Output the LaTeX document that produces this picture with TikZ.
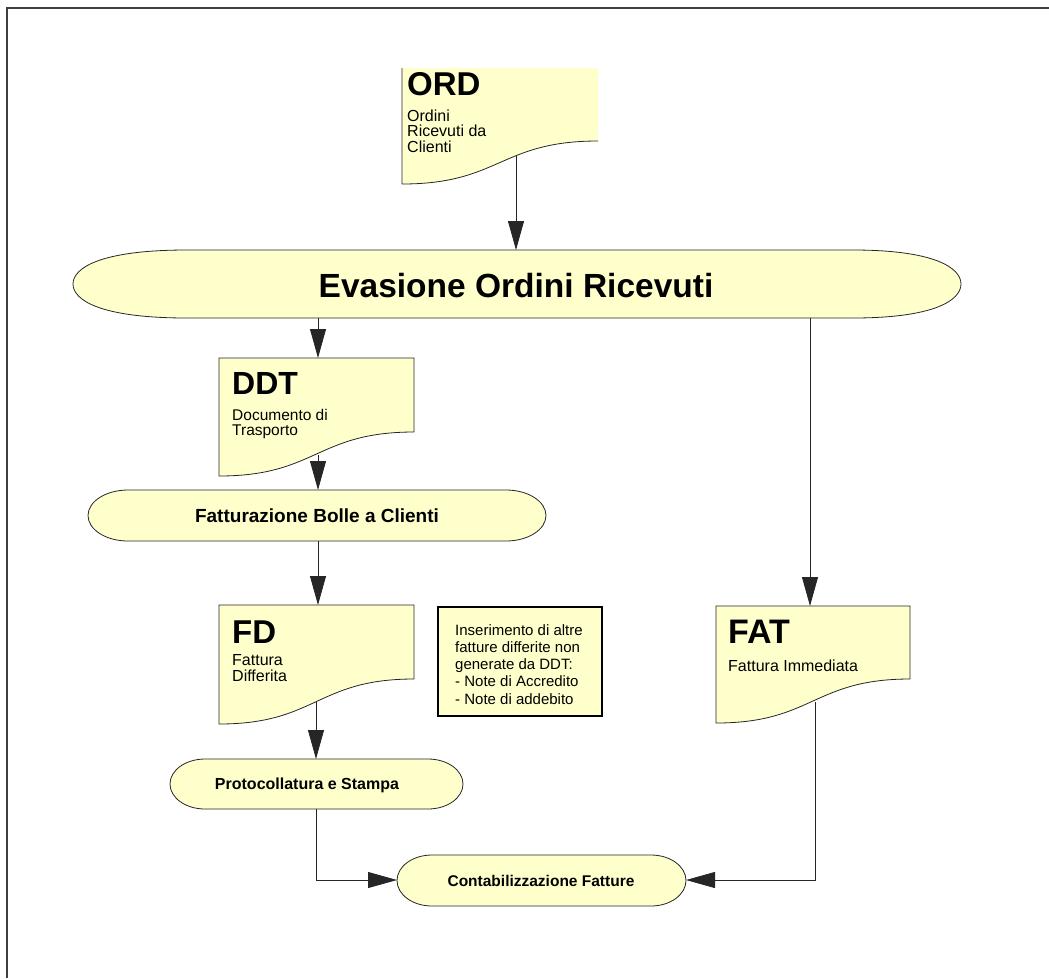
\documentclass[tikz,border=0pt]{standalone}
\usepackage{fontspec}
\setmainfont{Liberation Sans}
\usetikzlibrary{arrows.meta}
\definecolor{docyellow}{HTML}{FFFFCC}
% document shape: x0,y0,x1,yright,yleft
\newcommand\docshape[5]{\draw[shp] (#1,#2) -- (#3,#2) -- (#3,#4) .. controls ({(#1+#3)/2},#4) and ({(#1+#3)/2},#5) .. (#1,#5) -- cycle;}
% pill shape: x0,y0,x1,y1,r
\newcommand\pillshape[5]{\draw[shp] ({#1+#5},#2) -- ({#3-#5},#2)
  .. controls ({#3-0.4477*#5},#2) and (#3,{(#2+#4)/2-0.5523*(#4-#2)/2}) .. (#3,{(#2+#4)/2})
  .. controls (#3,{(#2+#4)/2+0.5523*(#4-#2)/2}) and ({#3-0.4477*#5},#4) .. ({#3-#5},#4)
  -- ({#1+#5},#4)
  .. controls ({#1+0.4477*#5},#4) and (#1,{(#2+#4)/2+0.5523*(#4-#2)/2}) .. (#1,{(#2+#4)/2})
  .. controls (#1,{(#2+#4)/2-0.5523*(#4-#2)/2}) and ({#1+0.4477*#5},#2) .. ({#1+#5},#2) -- cycle;}
\begin{document}
\begin{tikzpicture}[x=1pt,y=-1pt,
  shp/.style={fill=docyellow,draw=black!85,line width=0.8pt},
  conn/.style={draw=black!85,line width=0.8pt,-{Triangle[length=29pt,width=16pt]}},
  wire/.style={draw=black!85,line width=0.8pt},
  ttl/.style={anchor=base west,inner sep=0pt,font=\fontsize{33}{35}\selectfont\bfseries},
  sub/.style={anchor=base west,inner sep=0pt,font=\fontsize{16}{18}\selectfont},
  lbl/.style={inner sep=0pt,font=\bfseries}]
\useasboundingbox (0,0) rectangle (1049,978);
% frame
\draw[black!75,line width=1.3pt] (7,978) -- (7,8) -- (1049,8);

% ORD
\fill[docyellow] (402,68) -- (598,68) -- (598,141) .. controls (500,141) and (500,184) .. (402,184) -- cycle;
\draw[wire] (402,68) -- (402,184) .. controls (500,184) and (500,141) .. (598,141);
\node[ttl] (ordT) at (407,95) {ORD};
\node[sub] (ordS) at (407,121) {\vtop{\baselineskip=15.5pt\hbox{Ordini}\hbox{Ricevuti da}\hbox{Clienti}}};

% big process
\draw[shp] (187,250) -- (853,250) .. controls (935,250) and (961,268) .. (961,284)
  .. controls (961,300) and (935,318) .. (853,318) -- (187,318)
  .. controls (100,318) and (73,300) .. (73,284) .. controls (73,268) and (100,250) .. (187,250) -- cycle;
\node[lbl,font=\fontsize{33.5}{36}\selectfont\bfseries] (eva) at (516,286) {Evasione Ordini Ricevuti};

% DDT
\docshape{219}{358}{414}{432}{476}
\node[ttl,font=\fontsize{32}{34}\selectfont\bfseries] (ddtT) at (232,394) {DDT};
\node[sub,font=\fontsize{15.5}{17}\selectfont] (ddtS) at (232,420) {\vtop{\baselineskip=15.5pt\hbox{Documento di}\hbox{Trasporto}}};

% Fatturazione
\pillshape{88}{490}{546}{541}{40}
\node[lbl,font=\fontsize{19}{21}\selectfont\bfseries] (fatt) at (317,516) {Fatturazione Bolle a Clienti};

% FD
\docshape{219}{605}{414}{679}{724}
\node[ttl] (fdT) at (232,643) {FD};
\node[sub] (fdS) at (232,665) {\vtop{\baselineskip=16pt\hbox{Fattura}\hbox{Differita}}};

% note
\draw[fill=docyellow,draw=black,line width=1.3pt] (438,607) rectangle (602,716);
\node[anchor=base west,inner sep=0pt,font=\fontsize{15}{17.3}\selectfont] (note) at (455,635)
  {\vtop{\baselineskip=17.3pt\hbox{Inserimento di altre}\hbox{fatture differite non}\hbox{generate da DDT:}\hbox{- Note di Accredito}\hbox{- Note di addebito}}};

% FAT
\docshape{716}{606}{910}{679}{723}
\node[ttl,font=\fontsize{34}{36}\selectfont\bfseries] (fatT) at (728,643) {FAT};
\node[sub] (fatS) at (728,671) {Fattura Immediata};

% Protocollatura
\pillshape{170}{759}{463}{809}{35}
\node[lbl,font=\fontsize{16}{18}\selectfont\bfseries] (proto) at (307,785) {Protocollatura e Stampa};

% Contabilizzazione
\pillshape{397}{855}{686}{906}{35}
\node[lbl,font=\fontsize{15.5}{17}\selectfont\bfseries] (conta) at (541,881) {Contabilizzazione Fatture};

% connection points
\coordinate (ordW) at (516,155);
\coordinate (evaTop) at (516,250);
\coordinate (evaBL) at (318,318);
\coordinate (evaBR) at (810,318);
\coordinate (ddtTop) at (318,358);
\coordinate (ddtW) at (318,455);
\coordinate (fattTop) at (318,490);
\coordinate (fattBot) at (318,541);
\coordinate (fdTop) at (318,605);
\coordinate (fdW) at (316,702);
\coordinate (protoTop) at (316,759);
\coordinate (protoBot) at (316,809);
\coordinate (fatTop) at (810,606);
\coordinate (fatW) at (815,702);
\coordinate (contaL) at (397,880);
\coordinate (contaR) at (686,880);

\draw[conn] (ordW) -- (evaTop);
\draw[conn] (evaBL) -- (ddtTop);
\draw[conn] (ddtW) -- (fattTop);
\draw[conn] (fattBot) -- (fdTop);
\draw[conn] (fdW) -- (protoTop);
\draw[conn] (evaBR) -- (fatTop);
\draw[conn] (protoBot) |- (contaL);
\draw[conn] (fatW) |- (contaR);
\end{tikzpicture}
\end{document}
